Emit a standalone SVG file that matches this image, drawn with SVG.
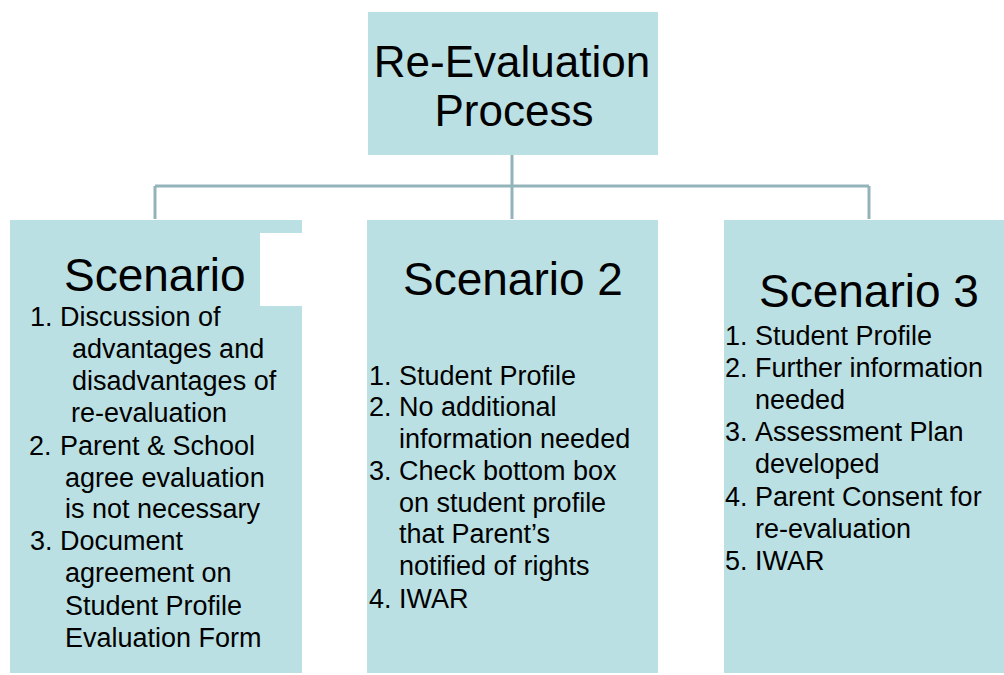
<svg xmlns="http://www.w3.org/2000/svg" width="1004" height="675" viewBox="0 0 1004 675">
  <style>
    .box { fill: #bbe0e3; }
    .link { fill: none; stroke: #93b3ba; stroke-width: 3; }
    text { font-family: "Liberation Sans", Arial, sans-serif; fill: #000000; }
    .title { font-size: 44px; text-anchor: middle; }
    .head { font-size: 46px; }
    .item { font-size: 27px; }
  </style>
  <rect width="1004" height="675" fill="#ffffff"/>

  <!-- tree connectors -->
  <g id="connectors">
    <path class="link" d="M512 155 V186"/>
    <path class="link" d="M155 186 H869"/>
    <path class="link" d="M155 186 V219"/>
    <path class="link" d="M512 186 V219"/>
    <path class="link" d="M869 186 V219"/>
  </g>

  <!-- root -->
  <g id="node-root">
    <rect class="box" x="368" y="12" width="290" height="143"/>
    <text class="title" x="512" y="77">Re-Evaluation</text>
    <text class="title" x="514" y="126">Process</text>
  </g>

  <!-- scenario 1 -->
  <g id="node-scenario1">
    <rect class="box" x="10" y="220" width="292" height="453"/>
    <rect x="260" y="233" width="42" height="73" fill="#ffffff"/>
    <text class="head" x="64" y="291">Scenario</text>
    <text class="item" x="30" y="326">1.</text>
    <text class="item" x="60" y="326">Discussion of</text>
    <text class="item" x="72" y="358">advantages and</text>
    <text class="item" x="72" y="390">disadvantages of</text>
    <text class="item" x="71" y="422">re-evaluation</text>
    <text class="item" x="29" y="455">2.</text>
    <text class="item" x="60" y="455">Parent &amp; School</text>
    <text class="item" x="65" y="487">agree evaluation</text>
    <text class="item" x="65" y="518">is not necessary</text>
    <text class="item" x="30" y="550">3.</text>
    <text class="item" x="60" y="550">Document</text>
    <text class="item" x="65" y="582">agreement on</text>
    <text class="item" x="65" y="615">Student Profile</text>
    <text class="item" x="65" y="647">Evaluation Form</text>
  </g>

  <!-- scenario 2 -->
  <g id="node-scenario2">
    <rect class="box" x="367" y="220" width="291" height="453"/>
    <text class="head" x="403" y="295">Scenario 2</text>
    <text class="item" x="369" y="385">1.</text>
    <text class="item" x="399" y="385">Student Profile</text>
    <text class="item" x="369" y="416">2.</text>
    <text class="item" x="399" y="416">No additional</text>
    <text class="item" x="399" y="448">information needed</text>
    <text class="item" x="369" y="480">3.</text>
    <text class="item" x="399" y="480">Check bottom box</text>
    <text class="item" x="399" y="512">on student profile</text>
    <text class="item" x="399" y="543">that Parent’s</text>
    <text class="item" x="399" y="575">notified of rights</text>
    <text class="item" x="369" y="608">4.</text>
    <text class="item" x="399" y="608">IWAR</text>
  </g>

  <!-- scenario 3 -->
  <g id="node-scenario3">
    <rect class="box" x="724" y="220" width="280" height="453"/>
    <text class="head" x="759" y="307">Scenario 3</text>
    <text class="item" x="725" y="345">1.</text>
    <text class="item" x="755" y="345">Student Profile</text>
    <text class="item" x="725" y="377">2.</text>
    <text class="item" x="755" y="377">Further information</text>
    <text class="item" x="755" y="409">needed</text>
    <text class="item" x="725" y="441">3.</text>
    <text class="item" x="755" y="441">Assessment Plan</text>
    <text class="item" x="755" y="473">developed</text>
    <text class="item" x="725" y="506">4.</text>
    <text class="item" x="755" y="506">Parent Consent for</text>
    <text class="item" x="755" y="538">re-evaluation</text>
    <text class="item" x="725" y="570">5.</text>
    <text class="item" x="755" y="570">IWAR</text>
  </g>
</svg>
